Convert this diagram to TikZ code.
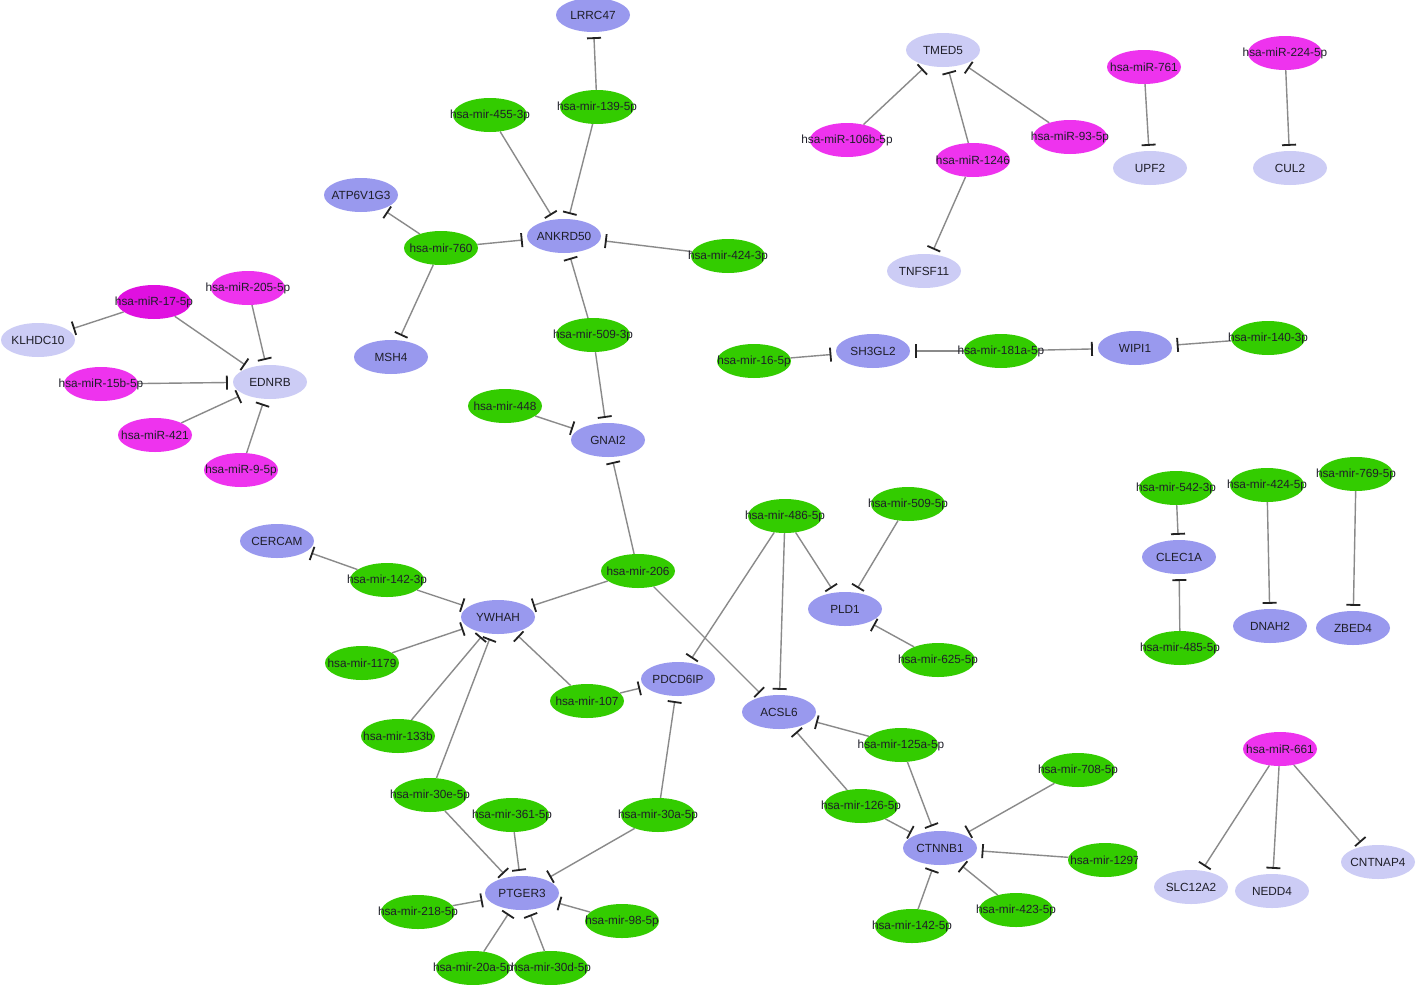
\documentclass[tikz,border=0pt]{standalone}
\usepackage{fontspec}
\setmainfont{Liberation Sans}
\usetikzlibrary{shapes.geometric,arrows.meta}
\pgfdeclarelayer{bg}
\pgfsetlayers{bg,main}
\definecolor{mirgreen}{HTML}{33CC00}
\definecolor{geneblue}{HTML}{9999EE}
\definecolor{genelight}{HTML}{CCCCF5}
\definecolor{mirmag}{HTML}{EE33EE}
\definecolor{mirdark}{HTML}{E010E0}
\definecolor{edgegray}{HTML}{8A8A8A}
\definecolor{barcol}{HTML}{222222}
\definecolor{txt}{HTML}{1E1E28}
\newcommand{\lbx}[1]{\makebox[0pt]{#1}}
\begin{document}
\begin{tikzpicture}[x=1pt,y=-1pt,
  nd/.style={ellipse, minimum width=74pt, minimum height=34pt, inner sep=0pt,
    font=\fontsize{11.8}{13}\selectfont, text=txt},
  mir/.style={nd, fill=mirgreen},
  gene/.style={nd, fill=geneblue},
  lgene/.style={nd, fill=genelight},
  mag/.style={nd, fill=mirmag},
  magd/.style={nd, fill=mirdark},
  inh/.style={draw=edgegray, line width=1.4pt, shorten >=5pt,
    -{Bar[width=14pt, line width=1.8pt, color=barcol]}}]
\path[use as bounding box] (0,0) rectangle (1416,985);

% ANKRD50 cluster
\node[gene] (LRRC47) at (593,15) {\lbx{LRRC47}};
\node[mir] (m139) at (597,107) {\lbx{hsa-mir-139-5p}};
\node[mir] (m455) at (490,115) {\lbx{hsa-mir-455-3p}};
\node[gene] (ANKRD50) at (564,236) {\lbx{ANKRD50}};
\node[gene] (ATP6V1G3) at (361,195) {\lbx{ATP6V1G3}};
\node[mir] (m760) at (441,248) {\lbx{hsa-mir-760}};
\node[mir] (m424a) at (728,256) {\lbx{hsa-mir-424-3p}};
\node[gene] (MSH4) at (391,357) {\lbx{MSH4}};
\node[mir] (m509a) at (593,335) {\lbx{hsa-mir-509-3p}};
\node[mir] (m448) at (505,406) {\lbx{hsa-mir-448}};
\node[gene] (GNAI2) at (608,440) {\lbx{GNAI2}};
\node[mir] (m206) at (638,571) {\lbx{hsa-mir-206}};
\node[gene] (CERCAM) at (277,541) {\lbx{CERCAM}};
\node[mir] (m142a) at (387,580) {\lbx{hsa-mir-142-3p}};
\node[gene] (YWHAH) at (498,617) {\lbx{YWHAH}};
\node[mir] (m1179) at (362,663) {\lbx{hsa-mir-1179}};
\node[mir] (m133b) at (398,736) {\lbx{hsa-mir-133b}};
\node[mir] (m107) at (587,701) {\lbx{hsa-mir-107}};
\node[gene] (PDCD6IP) at (678,679) {\lbx{PDCD6IP}};
\node[mir] (m30e) at (430,795) {\lbx{hsa-mir-30e-5p}};
\node[mir] (m361) at (512,815) {\lbx{hsa-mir-361-5p}};
\node[mir] (m30a) at (658,815) {\lbx{hsa-mir-30a-5p}};
\node[gene] (PTGER3) at (522,893) {\lbx{PTGER3}};
\node[mir] (m218) at (418,912) {\lbx{hsa-mir-218-5p}};
\node[mir] (m98) at (622,921) {\lbx{hsa-mir-98-5p}};
\node[mir] (m20a) at (473,968) {\lbx{hsa-mir-20a-5p}};
\node[mir] (m30d) at (551,968) {\lbx{hsa-mir-30d-5p}};

% EDNRB cluster
\node[magd] (r17) at (154,302) {\lbx{hsa-miR-17-5p}};
\node[mag] (r205) at (248,288) {\lbx{hsa-miR-205-5p}};
\node[lgene] (KLHDC10) at (38,340) {\lbx{KLHDC10}};
\node[lgene] (EDNRB) at (270,382) {\lbx{EDNRB}};
\node[mag] (r15b) at (101,384) {\lbx{hsa-miR-15b-5p}};
\node[mag] (r421) at (155,435) {\lbx{hsa-miR-421}};
\node[mag] (r9) at (241,470) {\lbx{hsa-miR-9-5p}};

% TMED5 cluster
\node[lgene] (TMED5) at (943,50) {\lbx{TMED5}};
\node[mag] (r106b) at (847,140) {\lbx{hsa-miR-106b-5p}};
\node[mag] (r1246) at (973,160) {\lbx{hsa-miR-1246}};
\node[mag] (r93) at (1070,137) {\lbx{hsa-miR-93-5p}};
\node[lgene] (TNFSF11) at (924,271) {\lbx{TNFSF11}};
\node[mag] (r761) at (1144,67) {\lbx{hsa-miR-761}};
\node[lgene] (UPF2) at (1150,168) {\lbx{UPF2}};
\node[mag] (r224) at (1285,53) {\lbx{hsa-miR-224-5p}};
\node[lgene] (CUL2) at (1290,168) {\lbx{CUL2}};

% SH3GL2 row
\node[mir] (m16) at (754,361) {\lbx{hsa-mir-16-5p}};
\node[gene] (SH3GL2) at (873,351) {\lbx{SH3GL2}};
\node[mir] (m181a) at (1001,351) {\lbx{hsa-mir-181a-5p}};
\node[gene] (WIPI1) at (1135,348) {\lbx{WIPI1}};
\node[mir] (m140) at (1268,338) {\lbx{hsa-mir-140-3p}};

% right middle
\node[mir] (m542) at (1176,488) {\lbx{hsa-mir-542-3p}};
\node[gene] (CLEC1A) at (1179,557) {\lbx{CLEC1A}};
\node[mir] (m485) at (1180,648) {\lbx{hsa-mir-485-5p}};
\node[mir] (m424b) at (1267,485) {\lbx{hsa-mir-424-5p}};
\node[gene] (DNAH2) at (1270,626) {\lbx{DNAH2}};
\node[mir] (m769) at (1356,474) {\lbx{hsa-mir-769-5p}};
\node[gene] (ZBED4) at (1353,628) {\lbx{ZBED4}};

% centre right
\node[mir] (m486) at (785,516) {\lbx{hsa-mir-486-5p}};
\node[mir] (m509b) at (908,504) {\lbx{hsa-mir-509-5p}};
\node[gene] (PLD1) at (845,609) {\lbx{PLD1}};
\node[mir] (m625) at (938,660) {\lbx{hsa-mir-625-5p}};
\node[gene] (ACSL6) at (779,712) {\lbx{ACSL6}};
\node[mir] (m125a) at (901,745) {\lbx{hsa-mir-125a-5p}};
\node[mir] (m126) at (861,806) {\lbx{hsa-mir-126-5p}};
\node[mir] (m708) at (1078,770) {\lbx{hsa-mir-708-5p}};
\node[gene] (CTNNB1) at (940,848) {\lbx{CTNNB1}};
\begin{scope}
\clip (1000,800) rectangle (1137,920);
\node[mir] (m1297) at (1105,860) {\lbx{hsa-mir-1297}};
\end{scope}
\node[mir] (m142b) at (912,926) {\lbx{hsa-mir-142-5p}};
\node[mir] (m423) at (1016,910) {\lbx{hsa-mir-423-5p}};

% miR-661 cluster
\node[mag] (r661) at (1280,749) {\lbx{hsa-miR-661}};
\node[lgene] (SLC12A2) at (1191,887) {\lbx{SLC12A2}};
\node[lgene] (NEDD4) at (1272,891) {\lbx{NEDD4}};
\node[lgene] (CNTNAP4) at (1378,862) {\lbx{CNTNAP4}};

\begin{pgfonlayer}{bg}
\fill[white] (0,0) rectangle (1416,985);
\draw[inh] (m139) -- (LRRC47);
\draw[inh] (m139) -- (ANKRD50);
\draw[inh] (m455) -- (ANKRD50);
\draw[inh] (m760) -- (ANKRD50);
\draw[inh] (m760) -- (ATP6V1G3);
\draw[inh] (m760) -- (MSH4);
\draw[inh] (m424a) -- (ANKRD50);
\draw[inh] (m509a) -- (ANKRD50);
\draw[inh] (m509a) -- (GNAI2);
\draw[inh] (m448) -- (GNAI2);
\draw[inh] (m206) -- (GNAI2);
\draw[inh] (m206) -- (YWHAH);
\draw[inh] (m206) -- (ACSL6);
\draw[inh] (m142a) -- (CERCAM);
\draw[inh] (m142a) -- (YWHAH);
\draw[inh] (m1179) -- (YWHAH);
\draw[inh] (m133b) -- (YWHAH);
\draw[inh] (m30e) -- (YWHAH);
\draw[inh] (m30e) -- (PTGER3);
\draw[inh] (m107) -- (YWHAH);
\draw[inh] (m107) -- (PDCD6IP);
\draw[inh] (m30a) -- (PDCD6IP);
\draw[inh] (m30a) -- (PTGER3);
\draw[inh] (m361) -- (PTGER3);
\draw[inh] (m218) -- (PTGER3);
\draw[inh] (m98) -- (PTGER3);
\draw[inh] (m20a) -- (PTGER3);
\draw[inh] (m30d) -- (PTGER3);
\draw[inh] (m486) -- (PDCD6IP);
\draw[inh] (m486) -- (ACSL6);
\draw[inh] (m486) -- (PLD1);
\draw[inh] (m509b) -- (PLD1);
\draw[inh] (m625) -- (PLD1);
\draw[inh] (m125a) -- (ACSL6);
\draw[inh] (m125a) -- (CTNNB1);
\draw[inh] (m126) -- (ACSL6);
\draw[inh] (m126) -- (CTNNB1);
\draw[inh] (m708) -- (CTNNB1);
\draw[inh] (m1297) -- (CTNNB1);
\draw[inh] (m142b) -- (CTNNB1);
\draw[inh] (m423) -- (CTNNB1);
\draw[inh] (r17) -- (KLHDC10);
\draw[inh] (r17) -- (EDNRB);
\draw[inh] (r205) -- (EDNRB);
\draw[inh] (r15b) -- (EDNRB);
\draw[inh] (r421) -- (EDNRB);
\draw[inh] (r9) -- (EDNRB);
\draw[inh] (r106b) -- (TMED5);
\draw[inh] (r1246) -- (TMED5);
\draw[inh] (r93) -- (TMED5);
\draw[inh] (r1246) -- (TNFSF11);
\draw[inh] (r761) -- (UPF2);
\draw[inh] (r224) -- (CUL2);
\draw[inh] (m16) -- (SH3GL2);
\draw[inh] (m181a) -- (SH3GL2);
\draw[inh] (m181a) -- (WIPI1);
\draw[inh] (m140) -- (WIPI1);
\draw[inh] (m542) -- (CLEC1A);
\draw[inh] (m485) -- (CLEC1A);
\draw[inh] (m424b) -- (DNAH2);
\draw[inh] (m769) -- (ZBED4);
\draw[inh] (r661) -- (SLC12A2);
\draw[inh] (r661) -- (NEDD4);
\draw[inh] (r661) -- (CNTNAP4);
\end{pgfonlayer}
\end{tikzpicture}
\end{document}
